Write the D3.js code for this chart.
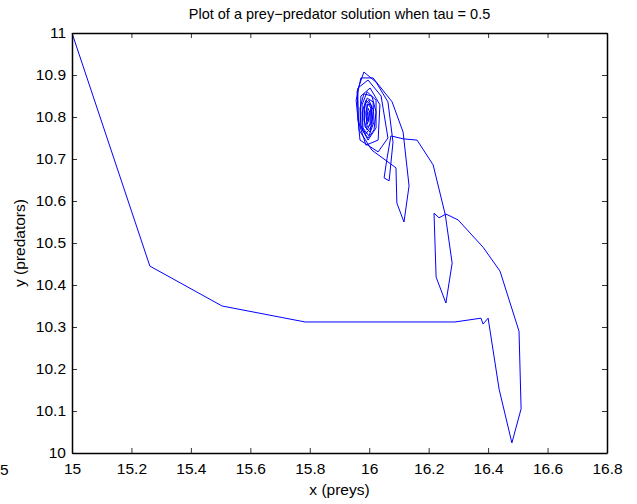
<!DOCTYPE html>
<html>
<head>
<meta charset="utf-8">
<script src="https://cdn.jsdelivr.net/npm/d3@7"></script>
<style>
  body { margin: 0; background: #fff; }
  svg { font-family: "Liberation Sans", Arial, sans-serif; }
</style>
</head>
<body>
<div id="chart"></div>
<script>
const FWIDTH = 637, FHEIGHT = 504;
const MARGIN = { LEFT: 72, RIGHT: 30, TOP: 33, BOTTOM: 51 };
const WIDTH = FWIDTH - MARGIN.LEFT - MARGIN.RIGHT;
const HEIGHT = FHEIGHT - MARGIN.TOP - MARGIN.BOTTOM;

// trajectory (prey x, predator y)
const preys = [
  15.000, 15.262, 15.505, 15.784, 16.289, 16.376, 16.383, 16.400, 16.437, 16.480,
  16.511, 16.504, 16.440, 16.383, 16.299, 16.258, 16.235, 16.218, 16.225, 16.258,
  16.279, 16.256, 16.215, 16.161, 16.114, 16.073, 16.060, 16.050, 16.067, 16.080,
  16.063, 16.023, 15.982, 15.959, 15.966, 16.009, 16.090, 16.093, 16.117, 16.134,
  16.114, 16.077, 16.013, 15.972, 15.956, 15.969, 16.030, 16.063, 16.040, 15.996,
  15.962, 15.962, 15.989, 16.030, 16.036, 16.003, 15.972, 15.969, 15.996, 16.023,
  16.023, 15.993, 15.976, 15.979, 15.999, 16.016, 16.013, 15.993, 15.982, 15.986,
  16.003, 16.009, 16.006, 15.993, 15.989, 15.993, 16.003, 16.003, 15.996, 15.993,
  15.996, 15.999, 16.009, 15.989, 15.976, 15.976, 15.996, 16.016, 16.023, 16.009,
  15.982, 15.969, 15.972, 15.989, 16.009, 16.013, 15.999, 15.986, 15.982, 15.993,
  16.006, 16.006, 15.996, 15.989, 15.993, 15.999, 15.999
];
const predators = [
  11.000, 10.445, 10.350, 10.312, 10.312, 10.321, 10.307, 10.321, 10.152, 10.024,
  10.105, 10.290, 10.433, 10.490, 10.555, 10.569, 10.560, 10.571, 10.419, 10.357,
  10.452, 10.567, 10.686, 10.745, 10.748, 10.755, 10.702, 10.655, 10.648, 10.740,
  10.836, 10.883, 10.907, 10.860, 10.769, 10.721, 10.679, 10.595, 10.550, 10.636,
  10.764, 10.836, 10.893, 10.893, 10.840, 10.745, 10.717, 10.750, 10.850, 10.888,
  10.869, 10.793, 10.733, 10.745, 10.829, 10.869, 10.850, 10.781, 10.745, 10.774,
  10.840, 10.860, 10.829, 10.774, 10.755, 10.788, 10.836, 10.845, 10.817, 10.776,
  10.764, 10.795, 10.829, 10.831, 10.805, 10.776, 10.781, 10.810, 10.821, 10.800,
  10.790, 10.802, 10.826, 10.840, 10.812, 10.769, 10.750, 10.769, 10.812, 10.850,
  10.855, 10.821, 10.779, 10.760, 10.779, 10.817, 10.840, 10.831, 10.793, 10.769,
  10.788, 10.821, 10.831, 10.812, 10.783, 10.793, 10.812
];

const xTicks = [15, 15.2, 15.4, 15.6, 15.8, 16, 16.2, 16.4, 16.6, 16.8];
const yTicks = [10, 10.1, 10.2, 10.3, 10.4, 10.5, 10.6, 10.7, 10.8, 10.9, 11];

const data = preys.map((p, i) => ({ x: p, y: predators[i] }));

const svg = d3.select("#chart")
  .append("svg")
  .attr("width", FWIDTH)
  .attr("height", FHEIGHT);

const g = svg.append("g")
  .attr("transform", `translate(${MARGIN.LEFT}, ${MARGIN.TOP})`);

const x = d3.scaleLinear().domain([15, 16.8]).range([0, WIDTH]);
const y = d3.scaleLinear().domain([10, 11]).range([HEIGHT, 0]);

// the curve
const line = d3.line().x((d) => x(d.x)).y((d) => y(d.y));
g.append("path")
  .datum(data)
  .attr("fill", "none")
  .attr("stroke", "#0000ff")
  .attr("stroke-width", 1)
  .attr("stroke-linejoin", "miter")
  .attr("d", line);

// box axes, matlab style ticks inward on all sides
function styleAxis(sel) {
  sel.select(".domain").attr("stroke", "#000").attr("stroke-width", 1.5);
  sel.selectAll(".tick line").attr("stroke", "#000").attr("stroke-width", 0.8);
  sel.selectAll("text").attr("fill", "#000").style("font-size", "15.5px");
}

g.append("g")
  .attr("transform", `translate(0, ${HEIGHT})`)
  .call(d3.axisBottom(x).tickValues(xTicks).tickSize(-5).tickSizeOuter(0).tickPadding(10)
    .tickFormat(d3.format("")))
  .call(styleAxis);

g.append("g")
  .call(d3.axisLeft(y).tickValues(yTicks).tickSize(-5).tickSizeOuter(0).tickPadding(6)
    .tickFormat(d3.format("")))
  .call(styleAxis);

g.append("g")
  .call(d3.axisTop(x).tickValues(xTicks).tickSize(-5).tickSizeOuter(0).tickFormat(""))
  .call(styleAxis);

g.append("g")
  .attr("transform", `translate(${WIDTH}, 0)`)
  .call(d3.axisRight(y).tickValues(yTicks).tickSize(-5).tickSizeOuter(0).tickFormat(""))
  .call(styleAxis);

// stray clipped label at far left
svg.append("text")
  .attr("x", 0)
  .attr("y", 475)
  .style("font-size", "15.5px")
  .text("5");

// title
svg.append("text")
  .attr("x", MARGIN.LEFT + WIDTH / 2)
  .attr("y", 19)
  .attr("text-anchor", "middle")
  .style("font-size", "14.5px")
  .text("Plot of a prey\u2212predator solution when tau = 0.5");

// x label
svg.append("text")
  .attr("x", MARGIN.LEFT + WIDTH / 2)
  .attr("y", 495)
  .attr("text-anchor", "middle")
  .style("font-size", "15.5px")
  .text("x (preys)");

// y label
svg.append("text")
  .attr("transform", `translate(25, ${MARGIN.TOP + HEIGHT / 2}) rotate(-90)`)
  .attr("text-anchor", "middle")
  .style("font-size", "15.5px")
  .text("y (predators)");
</script>
</body>
</html>
